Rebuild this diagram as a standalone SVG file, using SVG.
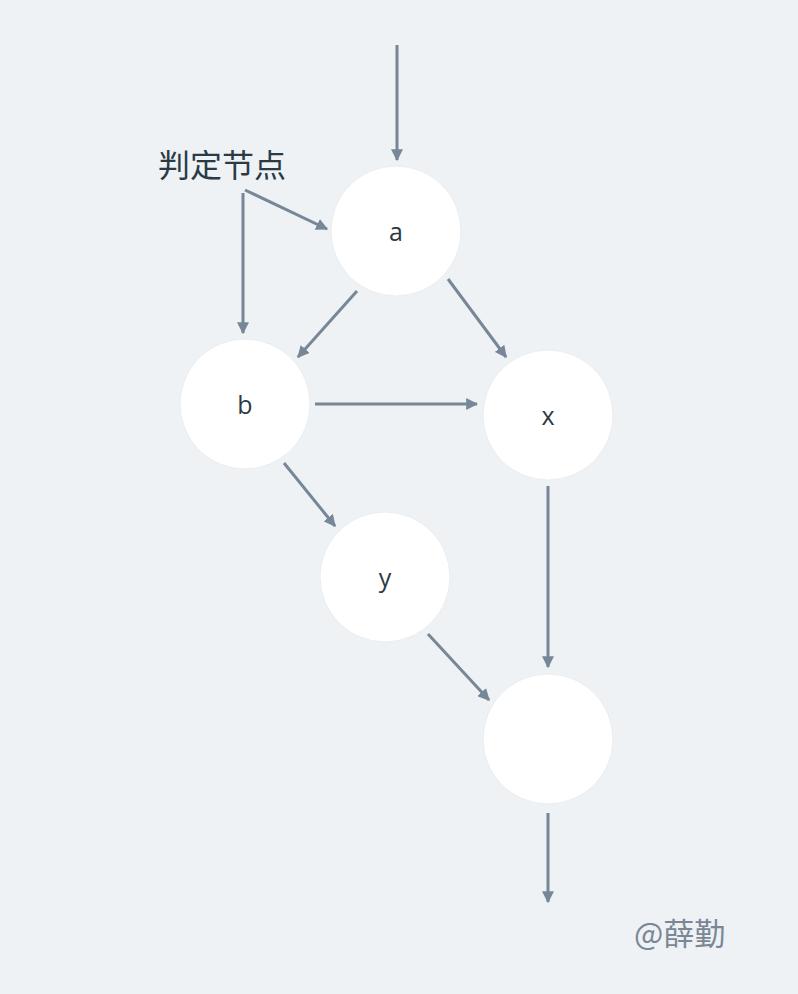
<svg xmlns="http://www.w3.org/2000/svg" width="798" height="994" viewBox="0 0 798 994">
<defs>
<marker id="ah" viewBox="0 0 10 10" refX="9" refY="5" markerWidth="4" markerHeight="4" orient="auto" markerUnits="strokeWidth">
<path d="M0,0 L10,5 L0,10 z" fill="#778797"/>
</marker>
<style>
.n{fill:#ffffff;stroke:#eaedf0;stroke-width:1}
.t{font-family:"Open Sans","Noto Sans","Liberation Sans",sans-serif;font-size:25px;fill:#2c3a46;text-anchor:middle;dominant-baseline:central}
.e{stroke:#778797;stroke-width:3;fill:none;marker-end:url(#ah)}
</style>
</defs>
<rect width="798" height="994" fill="#eff2f5"/>
<g id="node-a"><circle class="n" cx="396" cy="231" r="65"/><text class="t" x="396" y="231">a</text></g>
<g id="node-b"><circle class="n" cx="245" cy="404" r="65"/><text class="t" x="245" y="404">b</text></g>
<g id="node-x"><circle class="n" cx="548" cy="415" r="65"/><text class="t" x="548" y="415">x</text></g>
<g id="node-y"><circle class="n" cx="385" cy="577" r="65"/><text class="t" x="385" y="577">y</text></g>
<g id="node-end"><circle class="n" cx="548" cy="739" r="65"/></g>
<g id="label"><text x="158" y="177" font-family="'Noto Sans CJK SC',sans-serif" font-size="32" fill="#2c3a46">判定节点</text></g>
<g id="connectors">
<line class="e" x1="397" y1="45" x2="397" y2="160"/>
<line class="e" x1="243" y1="193" x2="243" y2="333"/>
<line class="e" x1="245" y1="190" x2="327" y2="229"/>
<line class="e" x1="357" y1="291" x2="298" y2="357"/>
<line class="e" x1="448" y1="279" x2="506" y2="357"/>
<line class="e" x1="315" y1="404" x2="477" y2="404"/>
<line class="e" x1="284" y1="463" x2="335" y2="526"/>
<line class="e" x1="428" y1="634" x2="489" y2="700"/>
<line class="e" x1="548" y1="486" x2="548" y2="667"/>
<line class="e" x1="548" y1="813" x2="548" y2="902"/>
</g>
<text x="634" y="945" font-family="'Noto Sans CJK SC',sans-serif" font-size="31" fill="#7a8896">@薛勤</text>
</svg>
